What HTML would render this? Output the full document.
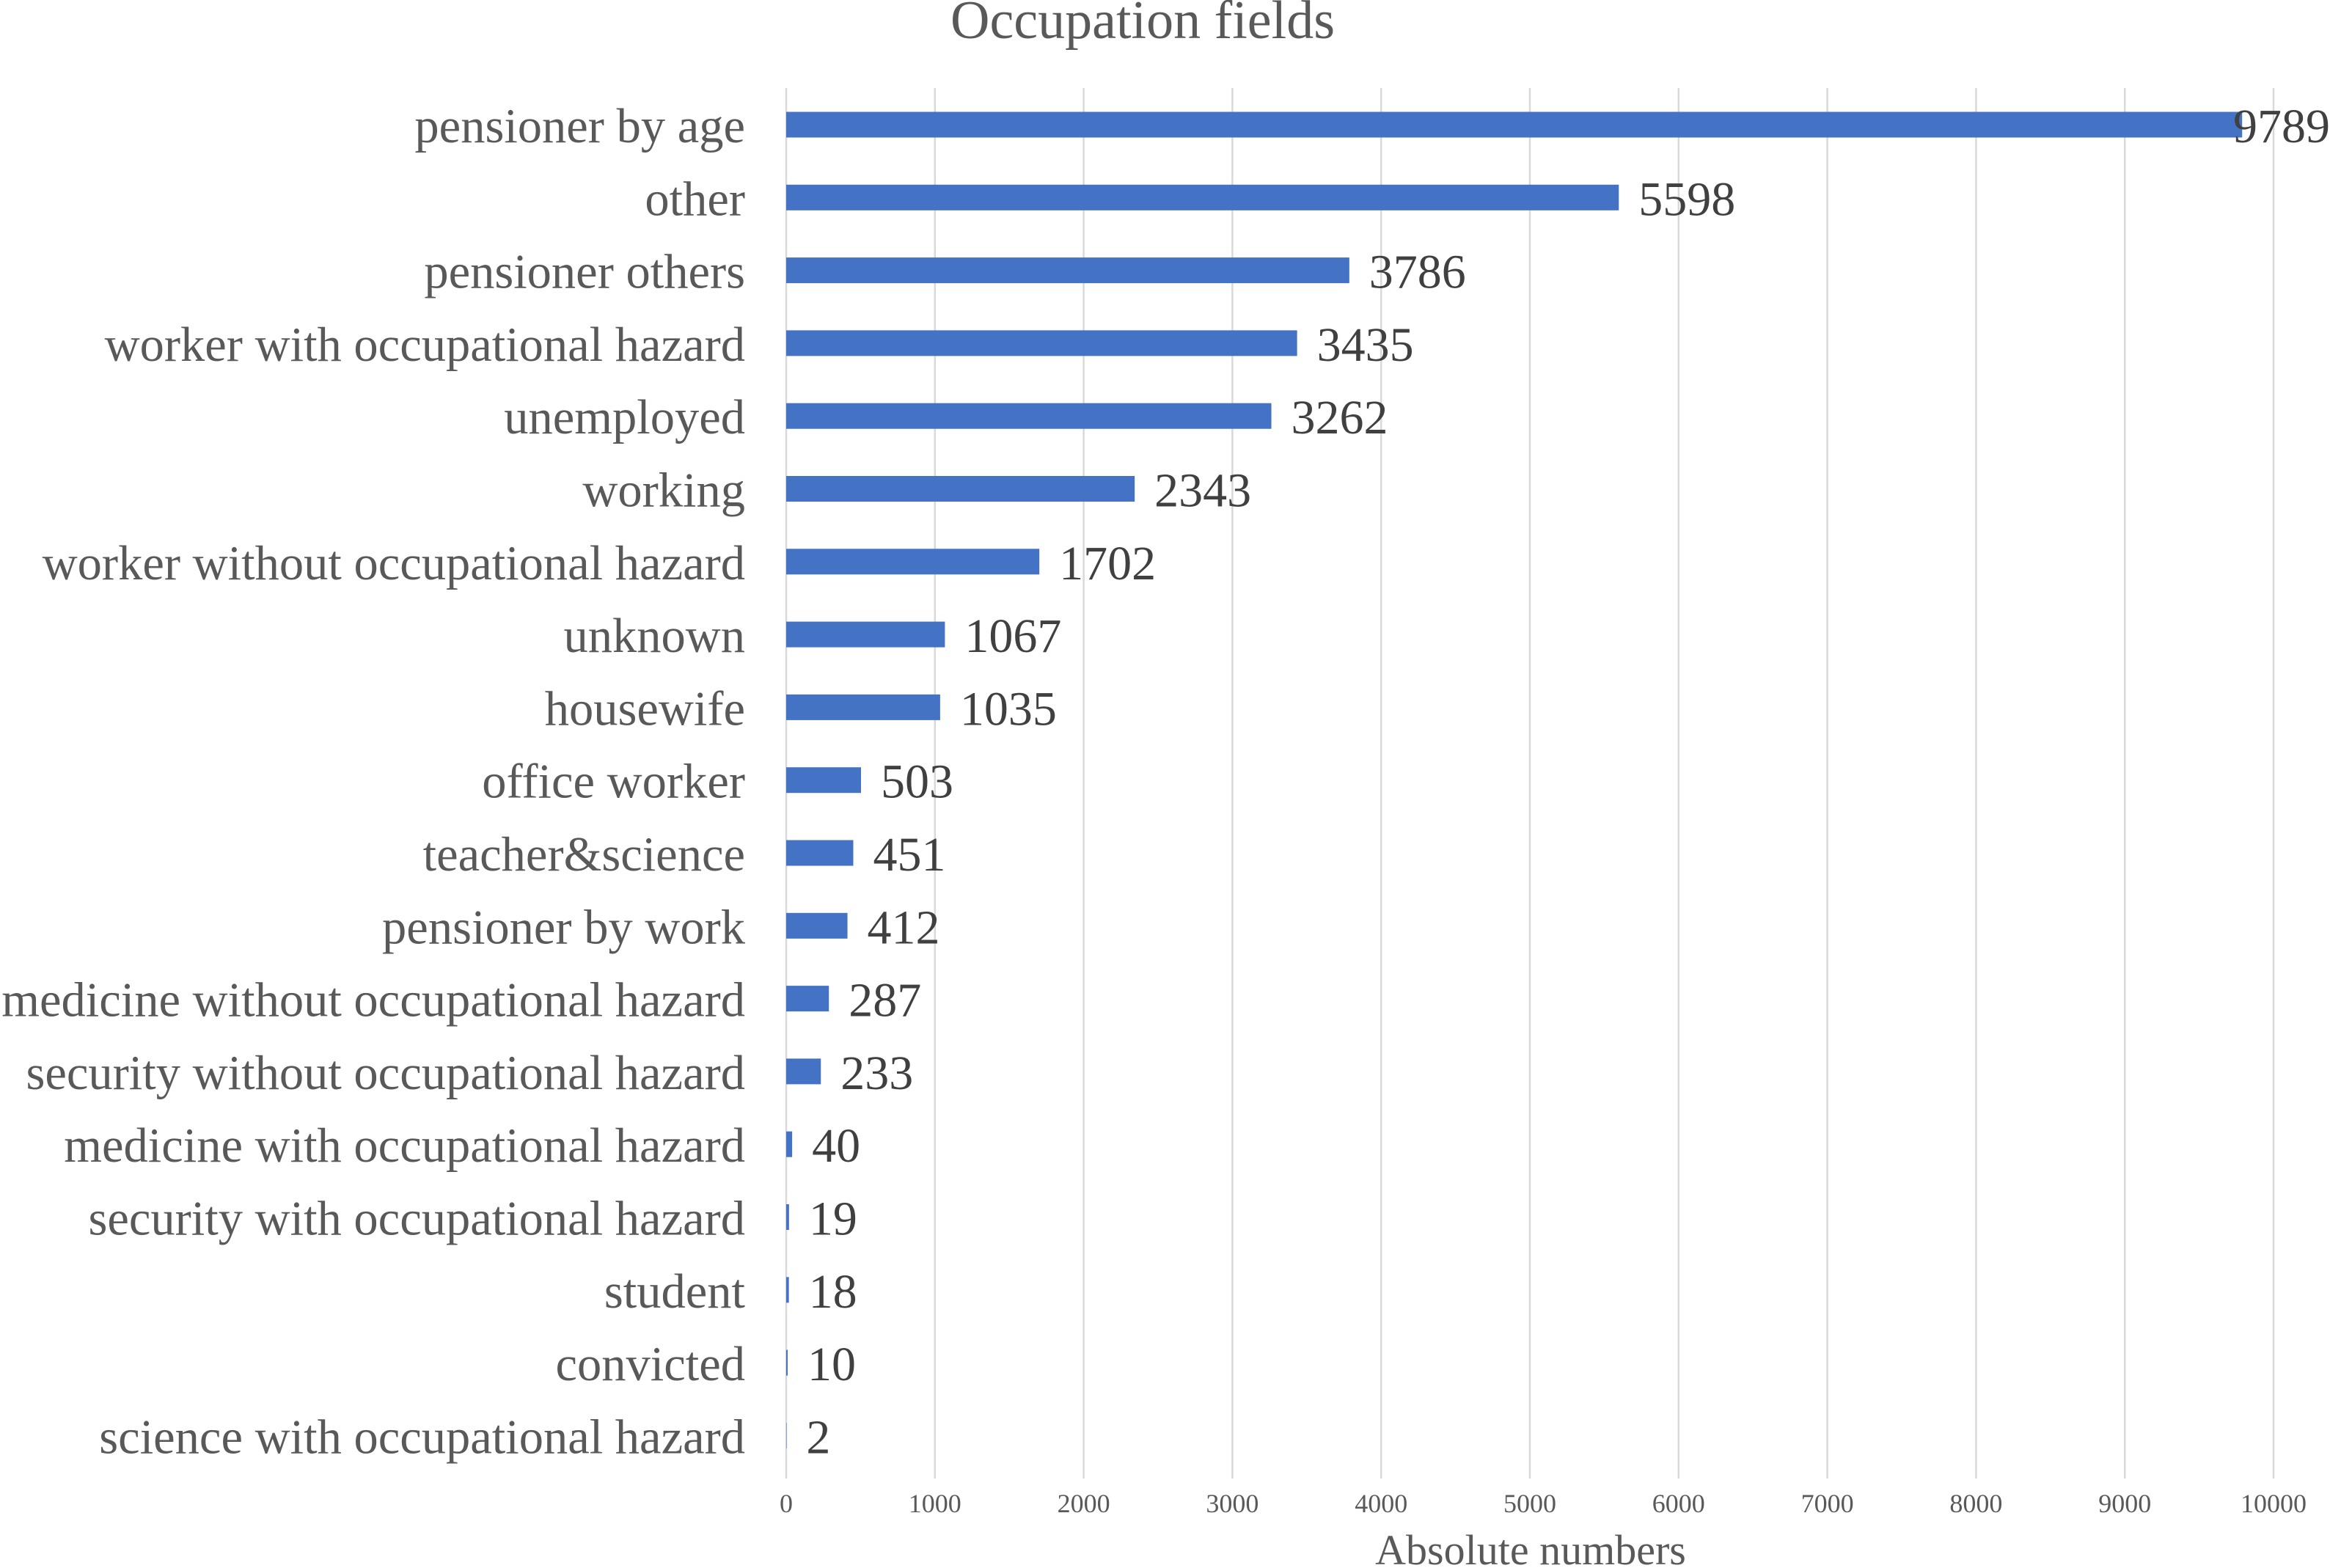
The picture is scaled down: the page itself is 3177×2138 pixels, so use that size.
<!DOCTYPE html>
<html><head><meta charset="utf-8"><style>
html,body{margin:0;padding:0;background:#fff;}
svg{display:block;font-family:"Liberation Serif","Times New Roman",serif;}
</style></head><body>
<svg id="chart" width="3177" height="2138" viewBox="0 0 3177 2138" xmlns="http://www.w3.org/2000/svg">
<text x="1558" y="52" font-size="74" fill="#595959" text-anchor="middle">Occupation fields</text>
<g id="grid"></g>
<g id="bars"></g>
<g id="cats"></g>
<g id="vals"></g>
<g id="ticks"></g>
<text x="2087" y="2133" font-size="58" fill="#595959" text-anchor="middle">Absolute numbers</text>
</svg>
<script>
const categories = ["pensioner by age","other","pensioner others","worker with occupational hazard","unemployed","working","worker without occupational hazard","unknown","housewife","office worker","teacher&science","pensioner by work","medicine without occupational hazard","security without occupational hazard","medicine with occupational hazard","security with occupational hazard","student","convicted","science with occupational hazard"];
const values = [9789,5598,3786,3435,3262,2343,1702,1067,1035,503,451,412,287,233,40,19,18,10,2];
const tickValues = [0,1000,2000,3000,4000,5000,6000,7000,8000,9000,10000];

const NS = "http://www.w3.org/2000/svg";
const X0 = 1072, X1 = 3100, XMAX = 10000;
const Y0 = 170, STEP = 99.3, BH = 35;
const GRID_TOP = 120, GRID_BOT = 2016;
function xs(v){ return X0 + (X1 - X0) * v / XMAX; }
function ys(i){ return Y0 + STEP * i; }
function mk(tag, attrs, parent){ const e = document.createElementNS(NS, tag); for (const k in attrs) e.setAttribute(k, attrs[k]); parent.appendChild(e); return e; }

const grid = document.getElementById('grid');
const ticks = document.getElementById('ticks');
tickValues.forEach(t => {
  const l = mk('line', {x1: xs(t), x2: xs(t), y1: GRID_TOP, y2: GRID_BOT, stroke: '#d9d9d9', 'stroke-width': 2.5}, grid);
  
  
  const tx = mk('text', {x: xs(t), y: 2062, 'font-size': 36, fill: '#595959', 'text-anchor': 'middle'}, ticks);
  tx.textContent = t;
  
  
});

const bars = document.getElementById('bars');
const cats = document.getElementById('cats');
const vals = document.getElementById('vals');
categories.forEach((c, i) => {
  const v = values[i];
  const cy = ys(i);
  const r = mk('rect', {x: X0, y: cy - BH/2, width: Math.max(xs(v) - X0, 0.5), height: BH, fill: '#4472c4'}, bars);
  
  
  const ct = mk('text', {x: 1016, y: cy + 24, 'font-size': 66.5, fill: '#595959', 'text-anchor': 'end'}, cats);
  ct.textContent = c;
  
  
  const vt = mk('text', {x: xs(v) + 27, y: cy + 24, 'font-size': 66, fill: '#404040'}, vals);
  vt.textContent = v;
  
  
  const w = vt.getComputedTextLength();
  if (xs(v) + 27 + w > 3177) vt.setAttribute('x', 3177 - w);
});
</script>
</body></html>
